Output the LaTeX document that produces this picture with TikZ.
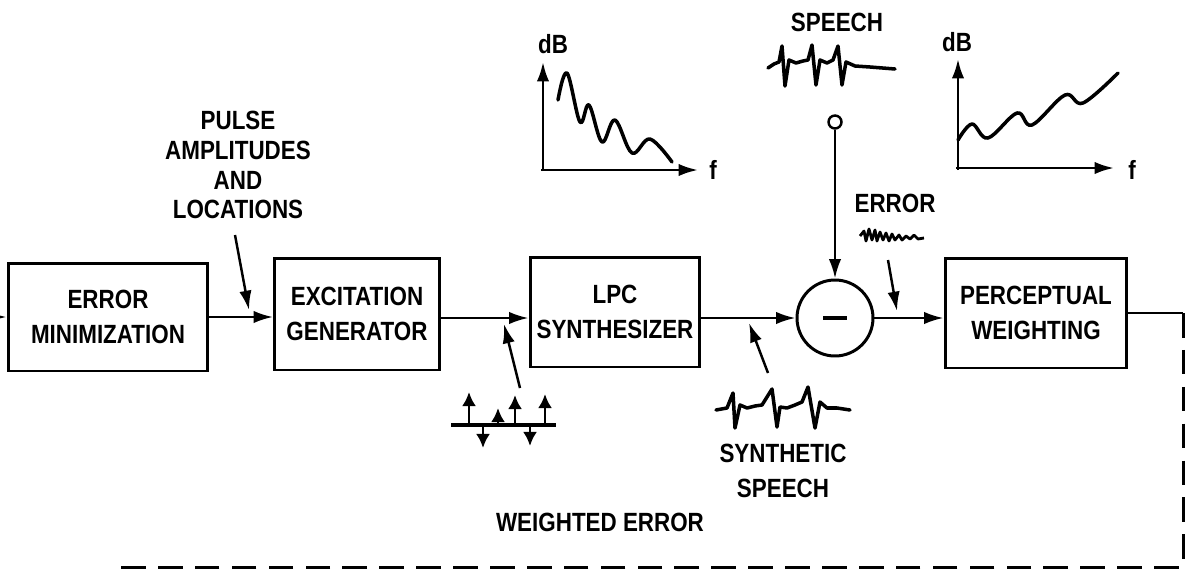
\documentclass[tikz,border=0pt]{standalone}
\usepackage{fontspec}
\setmainfont{Liberation Sans}[FakeStretch=0.85]
\usetikzlibrary{arrows.meta,positioning,calc}

\begin{document}
\begin{tikzpicture}[x=0.02cm,y=-0.02cm,font=\bfseries\fontsize{15}{17}\selectfont,
  >={Latex[length=11pt,width=7pt]},
  blk/.style={draw,line width=1.7pt,align=center,inner sep=2pt},
  lbl/.style={align=center,inner sep=0pt},
  sig/.style={->,line width=1.4pt},
  ptr/.style={->,line width=1.4pt},
  ax/.style={->,line width=1.5pt},
  wave/.style={line width=2pt,line join=round,line cap=round},
  fb/.style={line width=1.7pt,dash pattern=on 14pt off 7pt}]
\useasboundingbox (0,0) rectangle (1194,575);

% main chain
\node[blk,minimum width=4cm,minimum height=2.16cm] (errmin) at (108,317) {ERROR\\[3pt]MINIMIZATION};
\node[blk,minimum width=3.3cm,minimum height=2.24cm] (excgen) at (357,314) {EXCITATION\\[3pt]GENERATOR};
\node[blk,minimum width=3.4cm,minimum height=2.2cm] (lpc) at (615,312) {LPC\\[3pt]SYNTHESIZER};
\node[draw,circle,line width=1.7pt,minimum size=1.52cm] (sum) at (835,318) {};
\node[blk,minimum width=3.64cm,minimum height=2.2cm] (percw) at (1036,313) {PERCEPTUAL\\[3pt]WEIGHTING};
\draw[line width=2.4pt] ($(sum.center)+(-12,0)$) -- ($(sum.center)+(12,0)$);

\coordinate (in) at (0,317);
\draw[sig] (in) -- (errmin.west);
\draw[sig] (errmin.east) -- (errmin.east -| excgen.west);
\draw[sig] (excgen.east |- 0,318) -- (lpc.west |- 0,318);
\draw[sig] (lpc.east |- sum) -- (sum.west);
\draw[sig] (sum.east) -- (sum.east -| percw.west);

% feedback
\coordinate (fbc) at (1183,567);
\coordinate (fbend) at (120,567);
\draw[line width=1.7pt] (percw.east) -- (percw.east -| fbc) coordinate (fbt);
\draw[fb] (fbt) -- (fbc) -- (fbend);
\node[lbl] (wtderr) at (600,522) {WEIGHTED ERROR};

% pulse parameters
\node[lbl] (pulselbl) at (238,165) {PULSE\\[0pt]AMPLITUDES\\[0pt]AND\\[0pt]LOCATIONS};
\coordinate (pulsetail) at (235,235);
\coordinate (pulsetip) at (249,310);
\draw[ptr] (pulsetail) -- (pulsetip);

% excitation pulses
\draw[line width=1.8pt] (451,425) -- (556,425);
\foreach \px/\py in {469/392,498/408,515/395,545/394}
  \draw[->,line width=1.7pt,>={Latex[length=8pt,width=8pt]}] (\px,425) -- (\px,\py);
\foreach \px/\py in {483/448,530/446}
  \draw[->,line width=1.7pt,>={Latex[length=8pt,width=8pt]}] (\px,425) -- (\px,\py);
\coordinate (exctail) at (520,388);
\coordinate (exctip) at (504,324);
\draw[ptr] (exctail) -- (exctip);

% synthesis filter spectrum
\draw[ax] (543,171) -- (543,62);
\draw[ax] (541,170) -- (698,170);
\node[lbl] (dbl) at (553,44) {dB};
\node[lbl] (fl) at (713,170) {f};
\draw[wave] plot[smooth,tension=0.6] coordinates {(558,100) (567,73) (580,122) (589,105) (602,142) (615,120) (632,153) (650,139) (672,162)};

% weighting spectrum
\draw[ax] (958,170) -- (958,59);
\draw[ax] (956,168) -- (1114,168);
\node[lbl] (dbr) at (957,42) {dB};
\node[lbl] (fr) at (1132,170) {f};
\draw[wave] plot[smooth,tension=0.6] coordinates {(958,140) (972,124) (988,138) (1017,113) (1032,125) (1065,95) (1083,103) (1118,73)};

% original speech
\node[lbl] (speechlbl) at (837,22) {SPEECH};
\draw[wave] plot coordinates {(768,68) (774,64) (779,62) (782,46) (785,86) (789,60) (796,63) (803,61) (808,60) (812,45) (816,85) (820,60) (827,63) (833,60) (838,46) (842,85) (846,62) (855,66) (870,67) (895,69)};
\node[draw,circle,line width=1.4pt,minimum size=0.26cm,inner sep=0pt] (tap) at (835,122) {};
\draw[sig] (tap) -- (sum);

% synthetic speech
\draw[wave] plot coordinates {(716,410) (727,408) (733,393) (735,428) (740,405) (747,408) (755,406) (762,405) (772,389) (777,427) (780,407) (787,408) (795,405) (802,402) (808,387) (815,428) (820,402) (827,408) (837,408) (850,410)};
\node[lbl] (synlbl) at (783,471) {SYNTHETIC\\[3pt]SPEECH};
\coordinate (syntail) at (768,373);
\coordinate (syntip) at (749,323);
\draw[ptr] (syntail) -- (syntip);

% error signal
\node[lbl] (errlbl) at (895,203) {ERROR};
\draw[line width=1.6pt,line join=round] plot coordinates {(860,236) (864,231) (866,241) (869,229) (872,240) (875,230) (877,241) (880,232) (883,240) (886,233) (889,241) (892,234) (895,240) (899,235) (902,240) (906,236) (910,239) (914,235) (918,239) (924,238)};
\coordinate (errtail) at (888,260);
\coordinate (errtip) at (897,311);
\draw[ptr] (errtail) -- (errtip);
\end{tikzpicture}
\end{document}
